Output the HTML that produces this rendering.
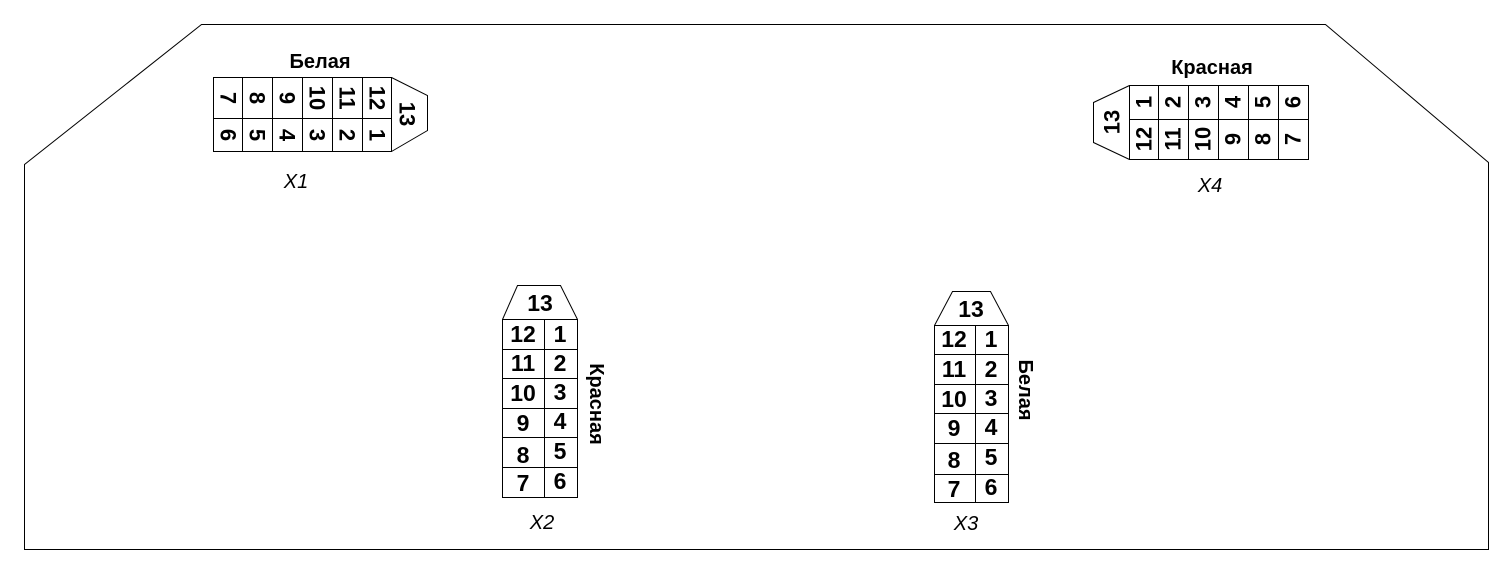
<!DOCTYPE html>
<html><head><meta charset="utf-8"><style>
html,body{margin:0;padding:0;background:#fff;}
svg{display:block}
text{font-family:"Liberation Sans",sans-serif;fill:#000;}
.b{font-weight:bold;font-size:22px;text-anchor:middle;dominant-baseline:central}
.c{font-weight:bold;font-size:23px;text-anchor:middle;dominant-baseline:central}
.l{font-weight:bold;font-size:20px;text-anchor:middle;dominant-baseline:central}
.i{font-style:italic;font-size:20px;text-anchor:middle;dominant-baseline:central}
</style></head><body>
<svg width="1512" height="573" viewBox="0 0 1512 573" xmlns="http://www.w3.org/2000/svg">
<g fill="none" stroke="#000" stroke-width="1">
<polygon points="201.5,24.5 1325.5,24.5 1488.5,162.5 1488.5,549.5 24.5,549.5 24.5,164.5"/>
<rect x="213.5" y="77.5" width="178" height="74"/>
<line x1="213" y1="118.5" x2="391" y2="118.5"/>
<line x1="242.5" y1="77" x2="242.5" y2="151"/>
<line x1="272.5" y1="77" x2="272.5" y2="151"/>
<line x1="302.5" y1="77" x2="302.5" y2="151"/>
<line x1="332.5" y1="77" x2="332.5" y2="151"/>
<line x1="362.5" y1="77" x2="362.5" y2="151"/>
<polyline points="391.5,77.5 427.5,95.5 427.5,130.5 391.5,151.5"/>
<rect x="1129.5" y="85.5" width="179" height="74"/>
<line x1="1129" y1="119.5" x2="1308" y2="119.5"/>
<line x1="1158.5" y1="85" x2="1158.5" y2="159"/>
<line x1="1188.5" y1="85" x2="1188.5" y2="159"/>
<line x1="1218.5" y1="85" x2="1218.5" y2="159"/>
<line x1="1248.5" y1="85" x2="1248.5" y2="159"/>
<line x1="1278.5" y1="85" x2="1278.5" y2="159"/>
<polyline points="1129.5,85.5 1093.5,102.5 1093.5,142.5 1129.5,159.5"/>
<rect x="502.5" y="319.5" width="75" height="178"/>
<line x1="544.5" y1="319" x2="544.5" y2="497"/>
<line x1="502" y1="349.5" x2="577" y2="349.5"/>
<line x1="502" y1="378.5" x2="577" y2="378.5"/>
<line x1="502" y1="408.5" x2="577" y2="408.5"/>
<line x1="502" y1="437.5" x2="577" y2="437.5"/>
<line x1="502" y1="467.5" x2="577" y2="467.5"/>
<polyline points="502.5,319.5 517.5,285.5 560.5,285.5 577.5,319.5"/>
<rect x="934.5" y="325.5" width="74" height="177"/>
<line x1="975.5" y1="325" x2="975.5" y2="502"/>
<line x1="934" y1="354.5" x2="1008" y2="354.5"/>
<line x1="934" y1="384.5" x2="1008" y2="384.5"/>
<line x1="934" y1="413.5" x2="1008" y2="413.5"/>
<line x1="934" y1="443.5" x2="1008" y2="443.5"/>
<line x1="934" y1="474.5" x2="1008" y2="474.5"/>
<polyline points="934.5,325.5 952.5,291.5 990.5,291.5 1008.5,325.5"/>
</g>
<text class="l" x="320" y="62">Белая</text>
<text class="i" x="296" y="182">X1</text>
<text class="b" transform="translate(228,98) rotate(90)">7</text>
<text class="b" transform="translate(257,98) rotate(90)">8</text>
<text class="b" transform="translate(287,98) rotate(90)">9</text>
<text class="b" transform="translate(317,98) rotate(90)">10</text>
<text class="b" transform="translate(347,98) rotate(90)">11</text>
<text class="b" transform="translate(377,98) rotate(90)">12</text>
<text class="b" transform="translate(228,135) rotate(90)">6</text>
<text class="b" transform="translate(257,135) rotate(90)">5</text>
<text class="b" transform="translate(287,135) rotate(90)">4</text>
<text class="b" transform="translate(317,135) rotate(90)">3</text>
<text class="b" transform="translate(347,135) rotate(90)">2</text>
<text class="b" transform="translate(377,135) rotate(90)">1</text>
<text class="b" transform="translate(407,114) rotate(90)">13</text>
<text class="l" x="1212" y="68">Красная</text>
<text class="i" x="1210" y="186">X4</text>
<text class="b" transform="translate(1144,102) rotate(-90)">1</text>
<text class="b" transform="translate(1173,102) rotate(-90)">2</text>
<text class="b" transform="translate(1203,102) rotate(-90)">3</text>
<text class="b" transform="translate(1233,102) rotate(-90)">4</text>
<text class="b" transform="translate(1263,102) rotate(-90)">5</text>
<text class="b" transform="translate(1293,102) rotate(-90)">6</text>
<text class="b" transform="translate(1144,139) rotate(-90)">12</text>
<text class="b" transform="translate(1173,139) rotate(-90)">11</text>
<text class="b" transform="translate(1203,139) rotate(-90)">10</text>
<text class="b" transform="translate(1233,139) rotate(-90)">9</text>
<text class="b" transform="translate(1263,139) rotate(-90)">8</text>
<text class="b" transform="translate(1293,139) rotate(-90)">7</text>
<text class="b" transform="translate(1112,122) rotate(-90)">13</text>
<text class="c" x="540" y="303">13</text>
<text class="c" x="523" y="334">12</text><text class="c" x="560" y="334">1</text>
<text class="c" x="523" y="363">11</text><text class="c" x="560" y="363">2</text>
<text class="c" x="523" y="393">10</text><text class="c" x="560" y="392">3</text>
<text class="c" x="523" y="423">9</text><text class="c" x="560" y="421">4</text>
<text class="c" x="523" y="455">8</text><text class="c" x="560" y="451">5</text>
<text class="c" x="523" y="483">7</text><text class="c" x="560" y="481">6</text>
<text class="l" transform="translate(596,404) rotate(90)">Красная</text>
<text class="i" x="542" y="523">X2</text>
<text class="c" x="971" y="309">13</text>
<text class="c" x="954" y="339">12</text><text class="c" x="991" y="339">1</text>
<text class="c" x="954" y="369">11</text><text class="c" x="991" y="369">2</text>
<text class="c" x="954" y="399">10</text><text class="c" x="991" y="398">3</text>
<text class="c" x="954" y="428">9</text><text class="c" x="991" y="427">4</text>
<text class="c" x="954" y="460">8</text><text class="c" x="991" y="457">5</text>
<text class="c" x="954" y="489">7</text><text class="c" x="991" y="487">6</text>
<text class="l" transform="translate(1025,390) rotate(90)">Белая</text>
<text class="i" x="966" y="524">X3</text>
</svg>
</body></html>
